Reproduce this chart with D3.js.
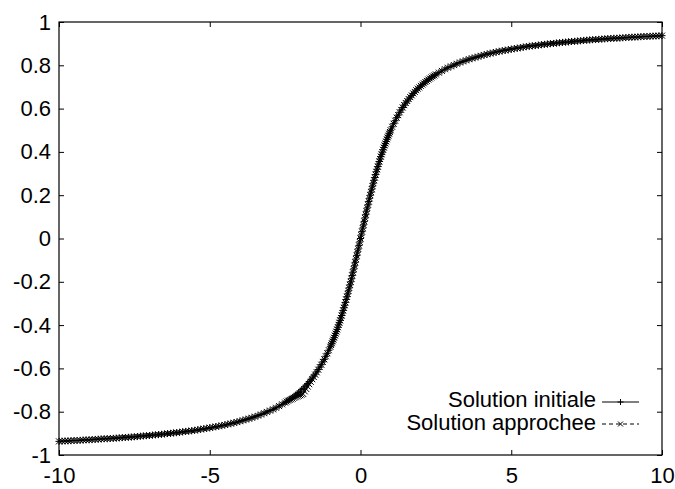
<!DOCTYPE html>
<html>
<head>
<meta charset="utf-8">
<script src="https://cdn.jsdelivr.net/npm/d3@7"></script>
<style>
  body { margin: 0; background: #fff; }
  svg { display: block; font-family: "Liberation Sans", Arial, Helvetica, sans-serif; }
</style>
</head>
<body>
<div id="chart"></div>
<script>
// x grid of the solutions: coarse in the tails, fine in the steep middle part
const xValues = [
  -10.0, -9.9, -9.8, -9.7, -9.6, -9.5, -9.4, -9.3, -9.2, -9.1,
  -9.0, -8.9, -8.8, -8.7, -8.6, -8.5, -8.4, -8.3, -8.2, -8.1,
  -8.0, -7.9, -7.8, -7.7, -7.6, -7.5, -7.4, -7.3, -7.2, -7.1,
  -7.0, -6.9, -6.8, -6.7, -6.6, -6.5, -6.4, -6.3, -6.2, -6.1,
  -6.0, -5.9, -5.8, -5.7, -5.6, -5.5, -5.4, -5.3, -5.2, -5.1,
  -5.0, -4.9, -4.8, -4.7, -4.6, -4.5, -4.4, -4.3, -4.2, -4.1,
  -4.0, -3.9, -3.8, -3.7, -3.6, -3.5, -3.4, -3.3, -3.2, -3.1,
  -3.0, -2.9, -2.8, -2.7, -2.6,
  -2.5, -2.45, -2.4, -2.35, -2.3, -2.25, -2.2, -2.15, -2.1, -2.05,
  -2.0, -1.95, -1.9, -1.85, -1.8, -1.75, -1.7, -1.65, -1.6, -1.55,
  -1.5, -1.45, -1.4, -1.35, -1.3, -1.25, -1.2, -1.15, -1.1, -1.05,
  -1.0, -0.975, -0.95, -0.925, -0.9, -0.875, -0.85, -0.825, -0.8, -0.775,
  -0.75, -0.725, -0.7, -0.675, -0.65, -0.625, -0.6, -0.575, -0.55, -0.525,
  -0.5, -0.475, -0.45, -0.425, -0.4, -0.375, -0.35, -0.325, -0.3, -0.275,
  -0.25, -0.225, -0.2, -0.175, -0.15, -0.125, -0.1, -0.075, -0.05, -0.025,
  0.0,
  0.025, 0.05, 0.075, 0.1, 0.125, 0.15, 0.175, 0.2, 0.225, 0.25,
  0.275, 0.3, 0.325, 0.35, 0.375, 0.4, 0.425, 0.45, 0.475, 0.5,
  0.525, 0.55, 0.575, 0.6, 0.625, 0.65, 0.675, 0.7, 0.725, 0.75,
  0.775, 0.8, 0.825, 0.85, 0.875, 0.9, 0.925, 0.95, 0.975, 1.0,
  1.05, 1.1, 1.15, 1.2, 1.25, 1.3, 1.35, 1.4, 1.45, 1.5,
  1.55, 1.6, 1.65, 1.7, 1.75, 1.8, 1.85, 1.9, 1.95, 2.0,
  2.05, 2.1, 2.15, 2.2, 2.25, 2.3, 2.35, 2.4, 2.45, 2.5,
  2.6, 2.7, 2.8, 2.9, 3.0,
  3.1, 3.2, 3.3, 3.4, 3.5, 3.6, 3.7, 3.8, 3.9, 4.0,
  4.1, 4.2, 4.3, 4.4, 4.5, 4.6, 4.7, 4.8, 4.9, 5.0,
  5.1, 5.2, 5.3, 5.4, 5.5, 5.6, 5.7, 5.8, 5.9, 6.0,
  6.1, 6.2, 6.3, 6.4, 6.5, 6.6, 6.7, 6.8, 6.9, 7.0,
  7.1, 7.2, 7.3, 7.4, 7.5, 7.6, 7.7, 7.8, 7.9, 8.0,
  8.1, 8.2, 8.3, 8.4, 8.5, 8.6, 8.7, 8.8, 8.9, 9.0,
  9.1, 9.2, 9.3, 9.4, 9.5, 9.6, 9.7, 9.8, 9.9, 10.0
];

// "Solution initiale", same order as xValues
const initialValues = [
  -0.937, -0.936, -0.935, -0.935, -0.934, -0.933, -0.933, -0.932, -0.931, -0.930,
  -0.930, -0.929, -0.928, -0.927, -0.926, -0.925, -0.925, -0.924, -0.923, -0.922,
  -0.921, -0.920, -0.919, -0.918, -0.917, -0.916, -0.915, -0.913, -0.912, -0.911,
  -0.910, -0.908, -0.907, -0.906, -0.904, -0.903, -0.901, -0.900, -0.898, -0.897,
  -0.895, -0.893, -0.891, -0.890, -0.888, -0.886, -0.884, -0.881, -0.879, -0.877,
  -0.874, -0.872, -0.869, -0.867, -0.864, -0.861, -0.858, -0.855, -0.851, -0.848,
  -0.844, -0.840, -0.836, -0.832, -0.828, -0.823, -0.818, -0.813, -0.807, -0.801,
  -0.795, -0.789, -0.782, -0.774, -0.766,
  -0.758, -0.753, -0.749, -0.744, -0.739, -0.734, -0.728, -0.723, -0.717, -0.711,
  -0.705, -0.698, -0.692, -0.685, -0.677, -0.670, -0.661, -0.653, -0.644, -0.635,
  -0.626, -0.616, -0.605, -0.594, -0.583, -0.570, -0.558, -0.544, -0.530, -0.516,
  -0.500, -0.492, -0.484, -0.475, -0.467, -0.458, -0.448, -0.439, -0.430, -0.420,
  -0.410, -0.399, -0.389, -0.378, -0.367, -0.356, -0.344, -0.332, -0.320, -0.308,
  -0.295, -0.282, -0.269, -0.256, -0.242, -0.228, -0.214, -0.200, -0.186, -0.171,
  -0.156, -0.141, -0.126, -0.110, -0.095, -0.079, -0.063, -0.048, -0.032, -0.016,
  0.000,
  0.016, 0.032, 0.048, 0.063, 0.079, 0.095, 0.110, 0.126, 0.141, 0.156,
  0.171, 0.186, 0.200, 0.214, 0.228, 0.242, 0.256, 0.269, 0.282, 0.295,
  0.308, 0.320, 0.332, 0.344, 0.356, 0.367, 0.378, 0.389, 0.399, 0.410,
  0.420, 0.430, 0.439, 0.448, 0.458, 0.467, 0.475, 0.484, 0.492, 0.500,
  0.516, 0.530, 0.544, 0.558, 0.570, 0.583, 0.594, 0.605, 0.616, 0.626,
  0.635, 0.644, 0.653, 0.661, 0.670, 0.677, 0.685, 0.692, 0.698, 0.705,
  0.711, 0.717, 0.723, 0.728, 0.734, 0.739, 0.744, 0.749, 0.753, 0.758,
  0.766, 0.774, 0.782, 0.789, 0.795,
  0.801, 0.807, 0.813, 0.818, 0.823, 0.828, 0.832, 0.836, 0.840, 0.844,
  0.848, 0.851, 0.855, 0.858, 0.861, 0.864, 0.867, 0.869, 0.872, 0.874,
  0.877, 0.879, 0.881, 0.884, 0.886, 0.888, 0.890, 0.891, 0.893, 0.895,
  0.897, 0.898, 0.900, 0.901, 0.903, 0.904, 0.906, 0.907, 0.908, 0.910,
  0.911, 0.912, 0.913, 0.915, 0.916, 0.917, 0.918, 0.919, 0.920, 0.921,
  0.922, 0.923, 0.924, 0.925, 0.925, 0.926, 0.927, 0.928, 0.929, 0.930,
  0.930, 0.931, 0.932, 0.933, 0.933, 0.934, 0.935, 0.935, 0.936, 0.937
];

// "Solution approchee": same as the initial one except a small dip near x = -2
const approxOverrideX = [
  -2.35, -2.3, -2.25, -2.2, -2.15, -2.1, -2.05, -2.0, -1.95, -1.9,
  -1.85, -1.8, -1.75, -1.7, -1.65, -1.6, -1.55, -1.5, -1.45, -1.4
];
const approxOverrideY = [
  -0.746, -0.743, -0.740, -0.736, -0.733, -0.730, -0.727, -0.724, -0.721, -0.718,
  -0.706, -0.695, -0.684, -0.673, -0.662, -0.650, -0.640, -0.629, -0.618, -0.606
];

const xTicks = [-10, -5, 0, 5, 10];
const yTicks = [-1, -0.8, -0.6, -0.4, -0.2, 0, 0.2, 0.4, 0.6, 0.8, 1];
const legendLabels = ['Solution initiale', 'Solution approchee'];

const width = 675, height = 489;
const margin = { top: 22, right: 13, bottom: 34, left: 59 };
const fontSize = 22;

const initial = xValues.map((x, i) => ({ x, y: initialValues[i] }));
const approx = xValues.map((x, i) => {
  const k = approxOverrideX.findIndex(v => Math.abs(v - x) < 1e-9);
  return { x, y: k >= 0 ? approxOverrideY[k] : initialValues[i] };
});

const svg = d3.select('#chart').append('svg')
  .attr('width', width)
  .attr('height', height);

const x = d3.scaleLinear().domain([-10, 10]).range([margin.left, width - margin.right]);
const y = d3.scaleLinear().domain([-1, 1]).range([height - margin.bottom, margin.top]);

const fmt = d => String(+d.toFixed(1));   // plain hyphen minus, like gnuplot

function styleAxis(g) {
  g.select('.domain').remove();
  g.selectAll('line').attr('stroke', '#000').attr('stroke-width', 1);
  g.selectAll('text').attr('fill', '#000').style('font-size', fontSize + 'px');
}

// ticks point inward on all four sides (mirrored)
svg.append('g')
  .attr('transform', `translate(0,${y(-1)})`)
  .call(d3.axisBottom(x).tickValues(xTicks).tickFormat(fmt).tickSize(-5).tickPadding(12))
  .call(styleAxis);
svg.append('g')
  .attr('transform', `translate(0,${y(1)})`)
  .call(d3.axisTop(x).tickValues(xTicks).tickFormat('').tickSize(-5))
  .call(styleAxis);
svg.append('g')
  .attr('transform', `translate(${x(-10)},0)`)
  .call(d3.axisLeft(y).tickValues(yTicks).tickFormat(fmt).tickSize(-5).tickPadding(8))
  .call(styleAxis);
svg.append('g')
  .attr('transform', `translate(${x(10)},0)`)
  .call(d3.axisRight(y).tickValues(yTicks).tickFormat('').tickSize(-5))
  .call(styleAxis);

// frame
svg.append('rect')
  .attr('x', x(-10))
  .attr('y', y(1))
  .attr('width', x(10) - x(-10))
  .attr('height', y(-1) - y(1))
  .attr('fill', 'none')
  .attr('stroke', '#000')
  .attr('stroke-width', 1.2);

const line = d3.line().x(d => x(d.x)).y(d => y(d.y));

const plus = s => `M${-s},0H${s}M0,${-s}V${s}`;
const cross = s => `M${-s},${-s}L${s},${s}M${-s},${s}L${s},${-s}`;

function drawSeries(data, dash, marker) {
  const g = svg.append('g');
  g.append('path')
    .datum(data)
    .attr('d', line)
    .attr('fill', 'none')
    .attr('stroke', '#000')
    .attr('stroke-width', 1)
    .attr('stroke-dasharray', dash);
  g.selectAll('path.pt')
    .data(data)
    .enter()
    .append('path')
    .attr('class', 'pt')
    .attr('transform', d => `translate(${x(d.x)},${y(d.y)})`)
    .attr('d', marker)
    .attr('fill', 'none')
    .attr('stroke', '#000')
    .attr('stroke-width', 1);
}

drawSeries(initial, null, plus(3.5));
drawSeries(approx, '4,3', cross(3));

// legend, bottom right inside the frame
const legend = svg.append('g');
const legendRows = [
  { label: legendLabels[0], dash: null, marker: plus(3), base: 407, ly: 402 },
  { label: legendLabels[1], dash: '4,3', marker: cross(2.5), base: 430, ly: 424 }
];
legendRows.forEach(r => {
  legend.append('text')
    .attr('x', 596)
    .attr('y', r.base)
    .attr('text-anchor', 'end')
    .style('font-size', fontSize + 'px')
    .text(r.label);
  legend.append('line')
    .attr('x1', 602).attr('x2', 639)
    .attr('y1', r.ly).attr('y2', r.ly)
    .attr('stroke', '#000')
    .attr('stroke-dasharray', r.dash);
  legend.append('path')
    .attr('transform', `translate(620.5,${r.ly})`)
    .attr('d', r.marker)
    .attr('fill', 'none')
    .attr('stroke', '#000');
});
</script>
</body>
</html>
